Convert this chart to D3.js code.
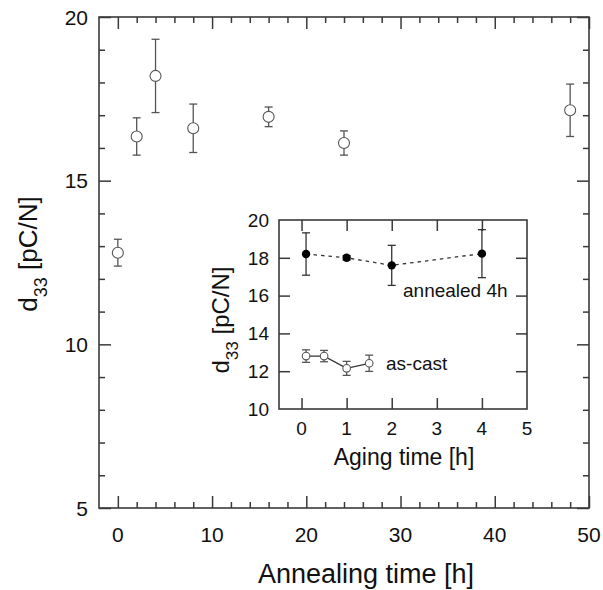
<!DOCTYPE html>
<html>
<head>
<meta charset="utf-8">
<script src="https://cdn.jsdelivr.net/npm/d3@7"></script>
<style>
  html, body { margin: 0; padding: 0; background: #fff; }
  svg { display: block; font-family: "Liberation Sans", Arial, sans-serif; }
</style>
</head>
<body>
<svg id="chart" width="603" height="590"></svg>
<script>
// ---- data ----
const mainTime = [0, 2, 4, 8, 16, 24, 48];
const mainD33  = [12.8, 16.35, 18.2, 16.6, 16.95, 16.15, 17.15];
const mainErr  = [0.41, 0.57, 1.12, 0.74, 0.3, 0.37, 0.8];

const annealedTime = [0.1, 1, 2, 4];
const annealedD33  = [18.2, 18.0, 17.6, 18.22];
const annealedErr  = [1.12, 0.12, 1.06, 1.27];

const asCastTime = [0.1, 0.5, 1.0, 1.5];
const asCastD33  = [12.8, 12.8, 12.15, 12.42];
const asCastErr  = [0.33, 0.3, 0.37, 0.43];

const mainXTicks = [0, 10, 20, 30, 40, 50];
const mainYTicks = [5, 10, 15, 20];
const insetXTicks = [0, 1, 2, 3, 4, 5];
const insetYTicks = [10, 12, 14, 16, 18, 20];

// ---- setup ----
const svg = d3.select("#chart");
const axisColor = "#3a3a3a";
const markColor = "#555";
const textColor = "#111";

const M = {left: 99, right: 589, top: 17, bottom: 508};
const x = d3.scaleLinear().domain([-2, 50]).range([M.left, M.right]);
const y = d3.scaleLinear().domain([5, 20]).range([M.bottom, M.top]);

function frameAxes(g, xs, ys, box, opts) {
  const {xMajor, xMinor, yMajor, yMinor, majLen, minLen} = opts;
  g.append("g").attr("transform", `translate(0,${box.bottom})`)
    .call(d3.axisBottom(xs).tickValues(xMinor).tickSize(-minLen).tickFormat(""));
  g.append("g").attr("transform", `translate(0,${box.bottom})`)
    .call(d3.axisBottom(xs).tickValues(xMajor).tickSize(-majLen).tickFormat(""));
  g.append("g").attr("transform", `translate(0,${box.top})`)
    .call(d3.axisTop(xs).tickValues(xMinor).tickSize(-minLen).tickFormat(""));
  g.append("g").attr("transform", `translate(0,${box.top})`)
    .call(d3.axisTop(xs).tickValues(xMajor).tickSize(-majLen).tickFormat(""));
  g.append("g").attr("transform", `translate(${box.left},0)`)
    .call(d3.axisLeft(ys).tickValues(yMinor).tickSize(-minLen).tickFormat(""));
  g.append("g").attr("transform", `translate(${box.left},0)`)
    .call(d3.axisLeft(ys).tickValues(yMajor).tickSize(-majLen).tickFormat(""));
  g.append("g").attr("transform", `translate(${box.right},0)`)
    .call(d3.axisRight(ys).tickValues(yMinor).tickSize(-minLen).tickFormat(""));
  g.append("g").attr("transform", `translate(${box.right},0)`)
    .call(d3.axisRight(ys).tickValues(yMajor).tickSize(-majLen).tickFormat(""));
  g.selectAll(".domain").remove();
  g.selectAll(".tick line").attr("stroke", axisColor).attr("stroke-width", 1.5);
  g.append("rect")
    .attr("x", box.left).attr("y", box.top)
    .attr("width", box.right - box.left).attr("height", box.bottom - box.top)
    .attr("fill", "none").attr("stroke", axisColor).attr("stroke-width", 1.6);
}

// ---- main axes ----
const gMain = svg.append("g");
frameAxes(gMain, x, y, M, {
  xMajor: mainXTicks,
  xMinor: d3.range(0, 50, 2).filter(v => v % 10 !== 0),
  yMajor: mainYTicks,
  yMinor: d3.range(6, 20, 1).filter(v => v % 5 !== 0),
  majLen: 12, minLen: 6
});

gMain.selectAll(".xlab").data(mainXTicks).join("text")
  .attr("x", d => x(d)).attr("y", 542)
  .attr("text-anchor", "middle").attr("font-size", 21).attr("fill", textColor)
  .text(d => d);
gMain.selectAll(".ylab").data(mainYTicks).join("text")
  .attr("x", 88).attr("y", d => y(d)).attr("dy", "0.36em")
  .attr("text-anchor", "end").attr("font-size", 21).attr("fill", textColor)
  .text(d => d);

svg.append("text").attr("x", 366).attr("y", 583)
  .attr("text-anchor", "middle").attr("font-size", 27).attr("fill", textColor)
  .text("Annealing time [h]");

function yTitle(cx, cy, size, subSize) {
  const t = svg.append("text")
    .attr("transform", `translate(${cx},${cy}) rotate(-90)`)
    .attr("text-anchor", "middle").attr("font-size", size).attr("fill", textColor);
  t.append("tspan").text("d");
  t.append("tspan").attr("font-size", subSize).attr("dy", size * 0.38).text("33");
  t.append("tspan").attr("dy", -size * 0.38).text("\u00a0[pC/N]");
}
yTitle(37, 254, 26, 18);

// main data
const mainData = mainTime.map((t, i) => ({t, v: mainD33[i], e: mainErr[i]}));
function errorBars(g, data, xs, ys, cap, color) {
  const eb = g.selectAll(null).data(data).join("g");
  eb.append("line").attr("x1", d => xs(d.t)).attr("x2", d => xs(d.t))
    .attr("y1", d => ys(d.v - d.e)).attr("y2", d => ys(d.v + d.e))
    .attr("stroke", color).attr("stroke-width", 1.3);
  [-1, 1].forEach(s => {
    eb.append("line").attr("x1", d => xs(d.t) - cap).attr("x2", d => xs(d.t) + cap)
      .attr("y1", d => ys(d.v + s * d.e)).attr("y2", d => ys(d.v + s * d.e))
      .attr("stroke", color).attr("stroke-width", 1.3);
  });
}
errorBars(gMain, mainData, x, y, 4, markColor);
gMain.selectAll(".pt").data(mainData).join("circle")
  .attr("cx", d => x(d.t)).attr("cy", d => y(d.v)).attr("r", 5.5)
  .attr("fill", "#fff").attr("stroke", markColor).attr("stroke-width", 1.1);

// ---- inset ----
const I = {left: 279, right: 527, top: 220, bottom: 409};
const xi = d3.scaleLinear().domain([-0.5, 5]).range([I.left, I.right]);
const yi = d3.scaleLinear().domain([10, 20]).range([I.bottom, I.top]);
const gIn = svg.append("g");
gIn.append("rect").attr("x", I.left).attr("y", I.top)
  .attr("width", I.right - I.left).attr("height", I.bottom - I.top).attr("fill", "#fff");
frameAxes(gIn, xi, yi, I, {
  xMajor: insetXTicks.filter(v => v < 5), xMinor: [],
  yMajor: insetYTicks.filter(v => v > 10 && v < 20), yMinor: [],
  majLen: 11, minLen: 0
});
gIn.selectAll(".xlab").data(insetXTicks).join("text")
  .attr("x", d => xi(d)).attr("y", 435)
  .attr("text-anchor", "middle").attr("font-size", 19).attr("fill", textColor)
  .text(d => d);
gIn.selectAll(".ylab").data(insetYTicks).join("text")
  .attr("x", 269).attr("y", d => yi(d)).attr("dy", "0.36em")
  .attr("text-anchor", "end").attr("font-size", 19).attr("fill", textColor)
  .text(d => d);
svg.append("text").attr("x", 404).attr("y", 465)
  .attr("text-anchor", "middle").attr("font-size", 23).attr("fill", textColor)
  .text("Aging time [h]");
yTitle(229, 320, 24, 17);

const annData = annealedTime.map((t, i) => ({t, v: annealedD33[i], e: annealedErr[i]}));
const castData = asCastTime.map((t, i) => ({t, v: asCastD33[i], e: asCastErr[i]}));
const line = d3.line().x(d => xi(d.t)).y(d => yi(d.v));

gIn.append("path").datum(annData).attr("d", line)
  .attr("fill", "none").attr("stroke", "#333").attr("stroke-width", 1.3)
  .attr("stroke-dasharray", "3.5,4");
errorBars(gIn, annData, xi, yi, 4, "#333");
gIn.selectAll(".ann").data(annData).join("circle")
  .attr("cx", d => xi(d.t)).attr("cy", d => yi(d.v)).attr("r", 4.2)
  .attr("fill", "#000");

gIn.append("path").datum(castData).attr("d", line)
  .attr("fill", "none").attr("stroke", "#333").attr("stroke-width", 1.3);
errorBars(gIn, castData, xi, yi, 4, markColor);
gIn.selectAll(".cast").data(castData).join("circle")
  .attr("cx", d => xi(d.t)).attr("cy", d => yi(d.v)).attr("r", 3.8)
  .attr("fill", "#fff").attr("stroke", markColor).attr("stroke-width", 1.1);

gIn.append("text").attr("x", 403).attr("y", 297)
  .attr("font-size", 19).attr("fill", textColor).text("annealed 4h");
gIn.append("text").attr("x", 386).attr("y", 370)
  .attr("font-size", 19).attr("fill", textColor).text("as-cast");
</script>
</body>
</html>
